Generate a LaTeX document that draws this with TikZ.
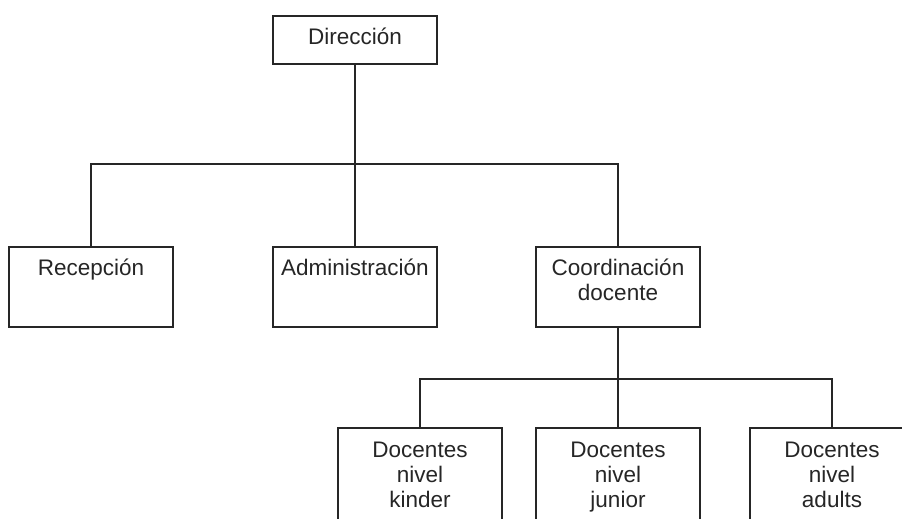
\documentclass[tikz,border=0pt]{standalone}
\usepackage{fontspec}
\setmainfont{Liberation Sans}
\begin{document}
\begin{tikzpicture}[x=1pt,y=-1pt,
  line/.style={draw=black!85, line width=1.3pt},
  unit/.style={line, fill=white, inner sep=0pt, minimum width=164pt},
  toptitle/.style={unit, minimum height=48pt},
  deptbox/.style={unit, minimum height=80pt},
  teambox/.style={unit, minimum height=130pt},
  caption/.style={inner sep=0pt, anchor=base, align=center, text=black!85,
    font=\fontsize{22.5}{25}\selectfont}]
\useasboundingbox (0,0) rectangle (902,519);
\clip (0,0) rectangle (902,519);

% top level
\node[toptitle] (dir) at (355,40) {};
\node[caption] (dirT) at ([yshift=-5pt]dir.center) {Dirección};

% second level
\node[deptbox] (rec) at (91,287) {};
\node[deptbox] (adm) at (355,287) {};
\node[deptbox] (coord) at (618,287) {};
\node[caption] (recT) at ([yshift=-29pt]rec.north) {Recepción};
\node[caption] (admT) at ([yshift=-29pt]adm.north) {Administración};
% base anchor of a multi-line caption sits on its last line
\node[caption] (coordT) at ([yshift=-54pt]coord.north) {Coordinación\\docente};

% teaching teams
\node[teambox] (kinder) at (420,493) {};
\node[teambox] (junior) at (618,493) {};
\node[teambox] (adults) at (832,493) {};
\node[caption] (kinderT) at ([yshift=-80pt]kinder.north) {Docentes\\nivel\\kinder};
\node[caption] (juniorT) at ([yshift=-80pt]junior.north) {Docentes\\nivel\\junior};
\node[caption] (adultsT) at ([yshift=-80pt]adults.north) {Docentes\\nivel\\adults};

% connectors
\coordinate (busA) at (355,164);
\coordinate (busB) at (618,379);
\draw[line] (dir.south) -- (busA) -- (adm.north);
\draw[line] (rec.north) |- (busA) -| (coord.north);
\draw[line] (coord.south) -- (busB) -- (junior.north);
\draw[line] (kinder.north) |- (busB) -| (adults.north);
\end{tikzpicture}
\end{document}
